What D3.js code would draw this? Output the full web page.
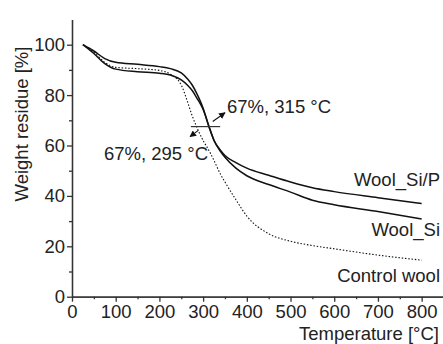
<!DOCTYPE html>
<html>
<head>
<meta charset="utf-8">
<script src="https://cdn.jsdelivr.net/npm/d3@7"></script>
<style>
  body { margin: 0; background: #fff; }
  svg { display: block; font-family: "Liberation Sans", Arial, sans-serif; }
</style>
</head>
<body>
<svg id="chart" width="443" height="344"></svg>
<script>
// temperature grid [°C]
const temps = [25, 50, 75, 100, 150, 200, 225, 250, 265, 275, 285, 290, 300, 315, 325, 340, 350, 375, 400, 450, 500, 550, 600, 700, 800];
// weight residue [%]
const woolSiP = [100, 97.5, 94.5, 93, 92.2, 91.3, 90.5, 88.8, 86.3, 84, 80.8, 79, 74.8, 66.5, 62, 58, 56, 53.2, 51, 48.2, 45.5, 43.2, 41.7, 39.3, 37];
const woolSi = [100, 96.5, 92.5, 90.3, 89.3, 88.7, 88, 86, 83.8, 81.8, 79, 77.6, 74.3, 66.8, 62, 57.6, 55.3, 51, 48, 44.5, 41.5, 38.3, 36.5, 33.8, 30.8];
const controlWool = [100, 97, 93, 91, 90.5, 89.8, 88.3, 84, 77, 71.8, 67.5, 65.5, 62, 57.5, 54, 48.5, 45.5, 38.5, 32, 25, 22, 20.3, 19, 16.5, 14.5];

const xTicks = [0, 100, 200, 300, 400, 500, 600, 700, 800];
const yTicks = [0, 20, 40, 60, 80, 100];
const xMinor = [50, 150, 250, 350, 450, 550, 650, 750];
const yMinor = [10, 30, 50, 70, 90];

var svg = d3.select("#chart");
var ink = "#222";
var fs = 18.5;

var x = d3.scaleLinear().domain([0, 850]).range([72, 443.5]);
var y = d3.scaleLinear().domain([0, 110]).range([296.7, 19.5]);

// axes
svg.append("g")
    .attr("transform", `translate(0,${y(0)})`)
    .call(d3.axisBottom(x).tickValues(xTicks).tickSize(5).tickPadding(3).tickSizeOuter(0));
svg.append("g")
    .attr("transform", `translate(0,${y(0)})`)
    .call(d3.axisBottom(x).tickValues(xMinor).tickSize(2.5).tickFormat("").tickSizeOuter(0));

svg.append("g")
    .attr("transform", `translate(${x(0)},0)`)
    .call(d3.axisLeft(y).tickValues(yTicks).tickSize(5).tickPadding(2).tickSizeOuter(0));
svg.append("g")
    .attr("transform", `translate(${x(0)},0)`)
    .call(d3.axisLeft(y).tickValues(yMinor).tickSize(3).tickFormat("").tickSizeOuter(0));

svg.selectAll(".domain, .tick line").attr("stroke", "#333").attr("stroke-width", 1.3);
svg.selectAll(".tick text").attr("font-size", fs).attr("fill", ink)
    .attr("font-family", "Liberation Sans, Arial, sans-serif");

// axis labels
svg.append("text")
    .attr("x", 439).attr("y", 340)
    .attr("text-anchor", "end")
    .attr("font-size", fs).attr("fill", ink)
    .text("Temperature [°C]");

svg.append("text")
    .attr("transform", "rotate(-90)")
    .attr("x", -124).attr("y", 28)
    .attr("text-anchor", "middle")
    .attr("font-size", fs).attr("fill", ink)
    .text("Weight residue [%]");

// curves
var line = d3.line()
    .x((d, i) => x(temps[i]))
    .y(d => y(d))
    .curve(d3.curveMonotoneX);

svg.append("path").datum(controlWool)
    .attr("d", line).attr("fill", "none")
    .attr("stroke", "#111").attr("stroke-width", 1.1)
    .attr("stroke-dasharray", "1.5,1.8");

svg.append("path").datum(woolSi)
    .attr("d", line).attr("fill", "none")
    .attr("stroke", "#111").attr("stroke-width", 1.5);

svg.append("path").datum(woolSiP)
    .attr("d", line).attr("fill", "none")
    .attr("stroke", "#111").attr("stroke-width", 1.5);

// series labels
var labels = [["Wool_Si/P", 186], ["Wool_Si", 236], ["Control wool", 281.5]];
svg.selectAll(".series-label").data(labels).enter().append("text")
    .attr("class", "series-label")
    .attr("x", 440).attr("y", d => d[1])
    .attr("text-anchor", "end")
    .attr("font-size", fs).attr("fill", ink)
    .text(d => d[0]);

// 67% annotation
svg.append("defs").append("marker")
    .attr("id", "arrow")
    .attr("viewBox", "0 0 10 10").attr("refX", 9).attr("refY", 5)
    .attr("markerWidth", 6).attr("markerHeight", 6)
    .attr("orient", "auto")
    .append("path").attr("d", "M0,0 L10,5 L0,10 z").attr("fill", "#111");

svg.append("line")
    .attr("x1", x(272)).attr("x2", x(339))
    .attr("y1", y(67.5)).attr("y2", y(67.5))
    .attr("stroke", "#333").attr("stroke-width", 1.2);

svg.append("line")
    .attr("x1", x(322)).attr("y1", y(69.5))
    .attr("x2", x(350)).attr("y2", y(73))
    .attr("stroke", "#111").attr("stroke-width", 1.1)
    .attr("marker-end", "url(#arrow)");

svg.append("line")
    .attr("x1", x(289)).attr("y1", y(66))
    .attr("x2", x(270)).attr("y2", y(63.5))
    .attr("stroke", "#111").attr("stroke-width", 1.1)
    .attr("marker-end", "url(#arrow)");

svg.append("text")
    .attr("x", 227).attr("y", 113)
    .attr("font-size", fs).attr("fill", ink)
    .text("67%, 315 °C");

svg.append("text")
    .attr("x", 208).attr("y", 160)
    .attr("text-anchor", "end")
    .attr("font-size", fs).attr("fill", ink)
    .text("67%, 295 °C");
</script>
</body>
</html>
